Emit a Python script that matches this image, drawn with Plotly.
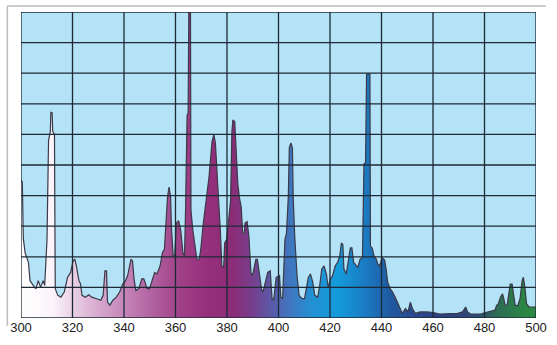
import plotly.graph_objects as go

# Wavelength (nm) and relative intensity
wavelength = [
    300.0, 300.5, 300.9, 301.6, 302.9, 303.5, 304.8, 305.8, 306.7, 307.6, 308.6, 309.2,
    310.1, 310.7, 311.4, 311.6, 312.1, 312.3, 313.0, 313.3, 314.3, 315.5, 316.8, 318.1,
    319.3, 320.2, 320.9, 321.5, 322.5, 323.1, 323.7, 325.0, 326.3, 327.5, 329.4, 331.0,
    331.9, 332.6, 333.2, 333.6, 334.5, 335.7, 337.0, 338.3, 339.5, 340.5, 341.4, 342.7,
    343.3, 343.9, 344.6, 345.8, 346.9, 347.7, 349.0, 349.9, 350.9, 351.9, 352.8, 354.0,
    354.9, 355.7, 356.3, 356.9, 357.5, 358.1, 358.4, 359.1, 359.7, 360.3, 361.2, 362.0,
    362.9, 363.5, 363.9, 364.5, 364.9, 365.2, 365.8, 366.0, 366.7, 367.5, 368.3, 369.2,
    369.8, 370.8, 371.7, 373.0, 374.2, 374.9, 375.5, 376.1, 376.8, 377.4, 378.0, 378.7,
    379.1, 379.9, 380.4, 381.4, 381.9, 382.3, 383.0, 383.6, 384.2, 384.8, 385.5, 386.1,
    386.7, 387.0, 387.8, 388.5, 389.3, 389.9, 391.2, 391.8, 392.8, 393.4, 394.0, 395.0,
    395.8, 396.8, 397.5, 398.1, 399.1, 400.4, 400.9, 401.6, 402.5, 403.1, 403.8, 404.2,
    404.8, 405.4, 405.7, 406.3, 407.2, 408.0, 409.2, 410.1, 410.7, 411.6, 412.4, 413.3,
    414.1, 415.2, 416.0, 416.8, 417.7, 418.6, 419.3, 420.2, 421.0, 422.0, 422.9, 423.8,
    424.4, 425.0, 425.4, 426.3, 427.0, 427.9, 428.5, 429.2, 429.8, 430.8, 431.7, 432.6,
    433.2, 433.8, 434.2, 435.5, 435.7, 436.4, 437.1, 438.0, 438.6, 439.3, 440.2, 441.2,
    441.8, 442.4, 443.4, 444.3, 445.6, 446.8, 448.1, 449.3, 450.3, 451.2, 452.0, 453.1,
    455.0, 457.6, 460.1, 462.6, 467.0, 469.6, 471.5, 472.7, 473.4, 474.6, 478.4, 480.9,
    482.2, 484.1, 484.7, 485.3, 486.2, 487.0, 487.5, 488.0, 488.8, 489.4, 490.0, 490.7,
    491.3, 491.9, 492.9, 493.8, 494.6, 495.1, 495.7, 496.3, 497.3, 498.6, 500.0,
]
intensity = [
    4.5, 4.45, 2.6, 2.13, 1.81, 1.22, 1.06, 0.95, 1.22, 1.0, 1.22, 1.06,
    2.57, 5.8, 6.1, 6.72, 6.7, 6.1, 6.0, 0.96, 0.74, 0.68, 0.85, 1.33,
    1.49, 1.86, 1.92, 1.7, 1.22, 1.12, 0.74, 0.68, 0.76, 0.68, 0.63, 0.58,
    0.74, 1.54, 1.54, 0.52, 0.42, 0.58, 0.68, 0.85, 1.11, 1.2, 1.38, 1.92,
    1.86, 1.28, 0.9, 0.96, 1.28, 1.28, 0.96, 0.96, 1.22, 1.49, 1.44, 1.7,
    2.13, 2.25, 3.1, 3.95, 4.28, 3.95, 2.99, 2.03, 2.03, 3.1, 3.18, 2.89,
    2.13, 2.03, 3.53, 6.63, 6.69, 10.5, 10.5, 3.53, 2.89, 2.45, 1.92, 1.92,
    2.24, 3.1, 3.74, 4.6, 5.78, 5.99, 5.72, 4.6, 3.74, 2.89, 1.7, 1.65,
    2.45, 2.57, 2.99, 3.85, 6.1, 6.47, 6.42, 5.24, 4.38, 3.95, 3.63, 2.77,
    2.77, 3.1, 3.15, 2.67, 1.49, 1.38, 1.92, 1.92, 1.38, 0.95, 0.85, 1.17,
    1.49, 1.54, 0.63, 0.58, 1.33, 1.38, 0.68, 0.63, 2.56, 2.77, 3.95, 5.56,
    5.72, 5.56, 3.95, 2.67, 1.38, 0.74, 0.63, 0.63, 0.95, 1.33, 1.44, 1.17,
    0.74, 0.68, 1.06, 1.6, 1.7, 1.44, 1.0, 1.28, 1.38, 1.7, 1.81, 2.03,
    2.45, 2.4, 1.6, 1.44, 1.81, 2.29, 2.29, 1.81, 1.76, 1.65, 1.92, 1.97,
    5.03, 5.08, 7.97, 7.97, 2.35, 2.29, 2.03, 1.92, 1.76, 1.7, 1.97, 1.9,
    1.6, 1.17, 0.95, 0.85, 0.63, 0.42, 0.15, 0.31, 0.2, 0.52, 0.31, 0.15,
    0.2, 0.2, 0.18, 0.13, 0.13, 0.15, 0.2, 0.36, 0.2, 0.13, 0.13, 0.18,
    0.2, 0.26, 0.42, 0.44, 0.68, 0.79, 0.63, 0.42, 0.42, 0.85, 1.11, 1.11,
    0.74, 0.42, 0.4, 0.63, 1.22, 1.33, 1.0, 0.47, 0.36, 0.36, 0.36,
]

x_ticks = [300, 320, 340, 360, 380, 400, 420, 440, 460, 480, 500]
y_grid = [0, 1, 2, 3, 4, 5, 6, 7, 8, 9, 10]

# Spectrum colour stops (wavelength, colour) for the fill under the curve
spectrum_stops = [
    (300, "#ffffff"), (312, "#fbf4fa"), (320, "#e9cfe4"), (330, "#d6a6cc"),
    (340, "#c383b6"), (350, "#b0609f"), (360, "#a04188"), (370, "#96307c"),
    (380, "#8c2c76"), (388, "#74408e"), (395, "#5a5aa8"), (402, "#3f77bf"),
    (410, "#2390d2"), (420, "#149bdb"), (430, "#1a7cc4"), (440, "#1f5a9f"),
    (450, "#2a478c"), (462, "#2e3f82"), (472, "#2f4a76"), (480, "#2d6a55"),
    (490, "#2b8445"), (500, "#2f9142"),
]

lo, hi = x_ticks[0], x_ticks[-1]
colorscale = [[(w - lo) / (hi - lo), c] for w, c in spectrum_stops]

fig = go.Figure()
fig.add_trace(go.Scatter(
    x=wavelength, y=intensity, mode="lines",
    line=dict(color="#3a3a48", width=1.2),
    fill="tozeroy",
    fillgradient=dict(type="horizontal", colorscale=colorscale, start=lo, stop=hi),
    hoverinfo="skip", showlegend=False,
))

grid_color = "#1d2a36"
shapes = []
for v in x_ticks:
    shapes.append(dict(type="line", xref="x", yref="y", x0=v, x1=v,
                       y0=y_grid[0], y1=y_grid[-1], layer="above",
                       line=dict(color=grid_color, width=1.3)))
for v in y_grid:
    shapes.append(dict(type="line", xref="x", yref="y", x0=lo, x1=hi,
                       y0=v, y1=v, layer="above",
                       line=dict(color=grid_color, width=1.3)))
# light page frame (left and top)
shapes.append(dict(type="line", xref="paper", yref="paper",
                   x0=-14/528, x1=-14/528, y0=1 + 6/311, y1=-8/311,
                   line=dict(color="#bdbdbd", width=1.5)))
shapes.append(dict(type="line", xref="paper", yref="paper",
                   x0=-14/528, x1=1 + 10/528, y0=1 + 6/311, y1=1 + 6/311,
                   line=dict(color="#bdbdbd", width=1.5)))

fig.update_layout(
    width=557, height=345,
    margin=dict(l=19, r=10, t=12, b=22),
    paper_bgcolor="white",
    plot_bgcolor="#b4e2f6",
    shapes=shapes,
    xaxis=dict(range=[lo, hi], tickvals=x_ticks, ticks="", showgrid=False,
               zeroline=False, showline=False, ticklabeloverflow="allow",
               tickfont=dict(family="Liberation Sans, Arial, sans-serif", size=13, color="#222222")),
    yaxis=dict(range=[y_grid[0], y_grid[-1]], showticklabels=False, ticks="",
               showgrid=False, zeroline=False, showline=False),
)

fig.write_html("out.html", config={"displayModeBar": False, "staticPlot": True},
               post_script="document.body.style.margin='0';document.body.style.overflow='hidden';")
